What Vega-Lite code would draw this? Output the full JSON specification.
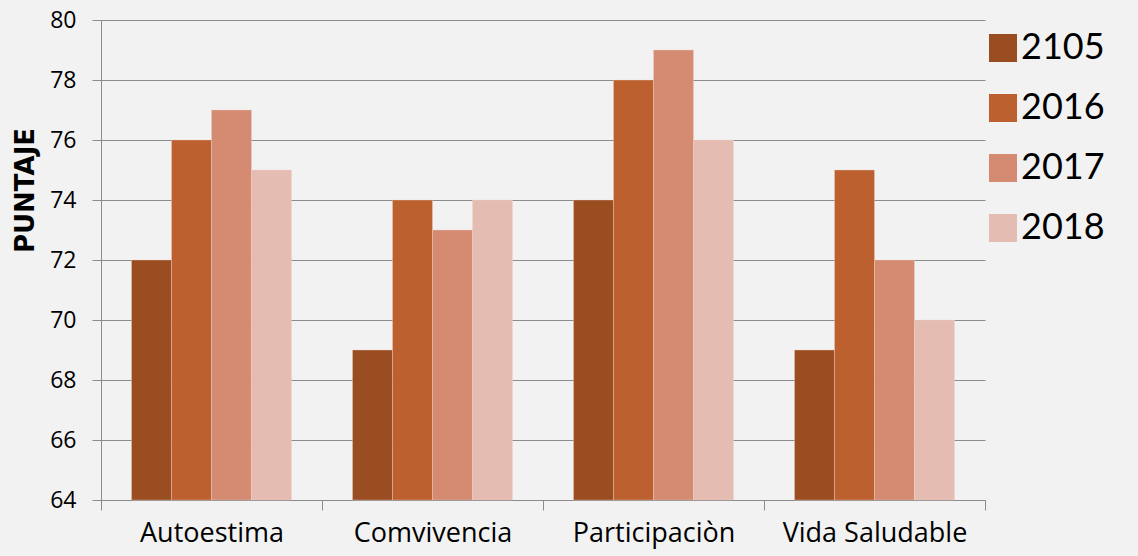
{
  "$schema": "https://vega.github.io/schema/vega-lite/v6.json",
  "width": 884,
  "height": 480,
  "autosize": {"type": "none"},
  "padding": {"left": 101, "top": 20, "right": 153, "bottom": 56},
  "background": "#f2f2f2",
  "config": {
    "view": {"stroke": null},
    "font": "Lato"
  },
  "data": {
    "values": [
      {"cat": "Autoestima", "year": "2105", "v": 72},
      {"cat": "Autoestima", "year": "2016", "v": 76},
      {"cat": "Autoestima", "year": "2017", "v": 77},
      {"cat": "Autoestima", "year": "2018", "v": 75},
      {"cat": "Comvivencia", "year": "2105", "v": 69},
      {"cat": "Comvivencia", "year": "2016", "v": 74},
      {"cat": "Comvivencia", "year": "2017", "v": 73},
      {"cat": "Comvivencia", "year": "2018", "v": 74},
      {"cat": "Participaciòn", "year": "2105", "v": 74},
      {"cat": "Participaciòn", "year": "2016", "v": 78},
      {"cat": "Participaciòn", "year": "2017", "v": 79},
      {"cat": "Participaciòn", "year": "2018", "v": 76},
      {"cat": "Vida Saludable", "year": "2105", "v": 69},
      {"cat": "Vida Saludable", "year": "2016", "v": 75},
      {"cat": "Vida Saludable", "year": "2017", "v": 72},
      {"cat": "Vida Saludable", "year": "2018", "v": 70}
    ]
  },
  "mark": {"type": "bar", "stroke": "#f2d6cc", "strokeWidth": 0.6, "strokeOpacity": 0.6},
  "encoding": {
    "x": {
      "field": "cat", "type": "nominal", "sort": null,
      "scale": {"paddingInner": 0, "paddingOuter": 0},
      "axis": {
        "title": null, "labelAngle": 0, "labelFontSize": 27, "labelColor": "#000000",
        "labelPadding": 10, "tickBand": "extent", "tickSize": 10, "tickColor": "#8c8c8c",
        "domainColor": "#8c8c8c", "labelFont": "Open Sans", "labelLimit": 0
      }
    },
    "xOffset": {
      "field": "year", "type": "nominal", "sort": null,
      "scale": {"paddingInner": 0, "paddingOuter": 0.7625}
    },
    "y": {
      "field": "v", "type": "quantitative",
      "scale": {"domain": [64, 80], "zero": false, "nice": false},
      "axis": {
        "title": "PUNTAJE", "titleFontSize": 26, "titleFontWeight": "bold", "titleColor": "#000000",
        "titleFont": "DejaVu Sans",
        "titleX": -76, "titleY": 170, "titleAngle": -90, "titleBaseline": "middle", "titleAlign": "center",
        "values": [64, 66, 68, 70, 72, 74, 76, 78, 80],
        "labelFontSize": 23, "labelFont": "Open Sans", "labelColor": "#000000", "labelPadding": 16, "tickSize": 9,
        "tickColor": "#8c8c8c", "domainColor": "#8c8c8c", "gridColor": "#8c8c8c", "gridOpacity": 1,
        "grid": true
      }
    },
    "y2": {"datum": 64},
    "color": {
      "field": "year", "type": "nominal", "sort": null,
      "scale": {"range": ["#9b4d22", "#bc602f", "#d48b71", "#e4bcb1"]},
      "legend": {
        "title": null, "orient": "none", "legendX": 884, "legendY": 10, "padding": 0,
        "symbolType": "square", "symbolSize": 784, "symbolStrokeWidth": 0,
        "labelFontSize": 36, "labelColor": "#000000", "labelOffset": 0,
        "rowPadding": 24, "labelFont": "Lato"
      }
    }
  }
}
